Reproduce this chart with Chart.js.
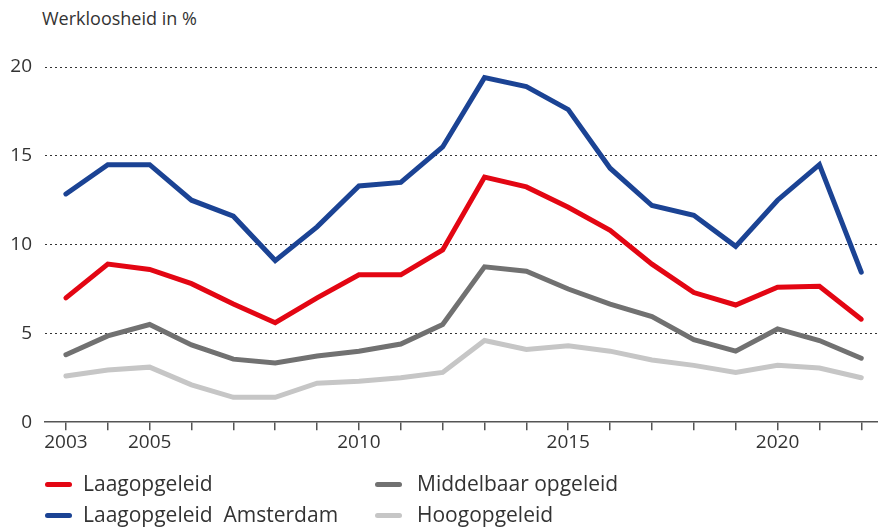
<!DOCTYPE html>
<html>
<head>
<meta charset="utf-8">
<script src="https://cdn.jsdelivr.net/npm/chart.js@4/dist/chart.umd.min.js"></script>
<style>
	html, body { margin: 0; padding: 0; background: #fff; }
	#wrap { position: relative; width: 878px; height: 527px; overflow: hidden; font-family: "Open Sans", Lato, sans-serif; color: #333; }
	#box { position: absolute; left: 0; top: 0; width: 878px; height: 470px; }
	#title { position: absolute; left: 42px; top: 6px; font-size: 18px; line-height: 24px; }
	.item { position: absolute; font-size: 21px; line-height: 26px; white-space: nowrap; }
	.item span { display: inline-block; width: 27px; height: 5px; border-radius: 3px; vertical-align: middle; position: relative; top: -1px; }
</style>
</head>
<body>
<div id="wrap">
	<div id="title">Werkloosheid in %</div>
	<div id="box"><canvas id="chart"></canvas></div>
	<div id="legend"></div>
</div>
<script>
const years = [2003, 2004, 2005, 2006, 2007, 2008, 2009, 2010, 2011, 2012, 2013, 2014, 2015, 2016, 2017, 2018, 2019, 2020, 2021, 2022];
const shownYears = [2003, 2005, 2010, 2015, 2020];

const laagopgeleid = [7.0, 8.9, 8.6, 7.8, 6.65, 5.6, 7.0, 8.3, 8.3, 9.7, 13.8, 13.25, 12.1, 10.8, 8.9, 7.3, 6.6, 7.6, 7.65, 5.8];
const laagAmsterdam = [12.85, 14.5, 14.5, 12.5, 11.6, 9.1, 11.0, 13.3, 13.5, 15.5, 19.4, 18.9, 17.6, 14.3, 12.2, 11.65, 9.9, 12.5, 14.5, 8.45];
const middelbaar = [3.8, 4.86, 5.5, 4.35, 3.55, 3.33, 3.73, 4.0, 4.4, 5.5, 8.75, 8.5, 7.5, 6.65, 5.95, 4.65, 4.0, 5.25, 4.6, 3.6];
const hoogopgeleid = [2.6, 2.94, 3.1, 2.1, 1.4, 1.4, 2.2, 2.3, 2.5, 2.8, 4.6, 4.1, 4.3, 4.0, 3.5, 3.2, 2.8, 3.2, 3.05, 2.5];

const yTicks = [0, 5, 10, 15, 20];

const series = [
	{label: "Laagopgeleid", data: laagopgeleid, color: "#e30613", left: 45, top: 470, gap: 11},
	{label: "Laagopgeleid  Amsterdam", data: laagAmsterdam, color: "#1b4394", left: 45, top: 501, gap: 11},
	{label: "Middelbaar opgeleid", data: middelbaar, color: "#717171", left: 375, top: 470, gap: 15},
	{label: "Hoogopgeleid", data: hoogopgeleid, color: "#c6c6c6", left: 375, top: 501, gap: 15}
];

// legend in two columns, like the original
const legend = document.getElementById('legend');
series.forEach((s) => {
	const item = document.createElement('div');
	item.className = 'item';
	item.style.left = s.left + 'px';
	item.style.top = s.top + 'px';
	item.innerHTML = `<span style="background:${s.color};margin-right:${s.gap}px"></span>${s.label.replace('  ', '&nbsp;&nbsp;')}`;
	legend.appendChild(item);
});

const datasets = [series[3], series[2], series[0], series[1]].map((s) => ({
	label: s.label,
	data: s.data.map((v, i) => ({x: years[i], y: v})),
	borderColor: s.color,
	backgroundColor: s.color,
	borderWidth: 5,
	pointRadius: 0,
	tension: 0,
	borderCapStyle: 'round',
	borderJoinStyle: 'miter'
}));

const tickFont = {family: '"Open Sans", Lato, sans-serif', size: 19};

new Chart(document.getElementById('chart'), {
	type: 'line',
	data: {datasets},
	options: {
		responsive: true,
		maintainAspectRatio: false,
		animation: false,
		layout: {padding: {top: 67, right: 0, bottom: 15, left: 0}},
		plugins: {
			legend: {display: false},
			tooltip: {enabled: false}
		},
		scales: {
			x: {
				type: 'linear',
				min: 2002.5,
				max: 2022.4,
				afterBuildTicks: (scale) => {
					scale.ticks = years.map((v) => ({value: v}));
				},
				ticks: {
					autoSkip: false,
					maxRotation: 0,
					padding: 1,
					color: '#333',
					font: tickFont,
					callback: (v) => shownYears.includes(v) ? String(v) : ''
				},
				grid: {
					drawOnChartArea: false,
					drawTicks: true,
					tickLength: 8,
					tickColor: '#555',
					lineWidth: 1.5
				},
				border: {display: true, color: '#555', width: 1.5}
			},
			y: {
				min: 0,
				max: 20,
				afterBuildTicks: (scale) => {
					scale.ticks = yTicks.map((v) => ({value: v}));
				},
				afterFit: (scale) => {
					scale.width = 45;
				},
				ticks: {
					padding: 13,
					color: '#333',
					font: tickFont
				},
				grid: {
					drawTicks: false,
					color: (ctx) => ctx.tick && ctx.tick.value === 0 ? 'rgba(0,0,0,0)' : '#333',
					lineWidth: 1
				},
				border: {display: false, dash: [2, 3]}
			}
		}
	}
});
</script>
</body>
</html>
